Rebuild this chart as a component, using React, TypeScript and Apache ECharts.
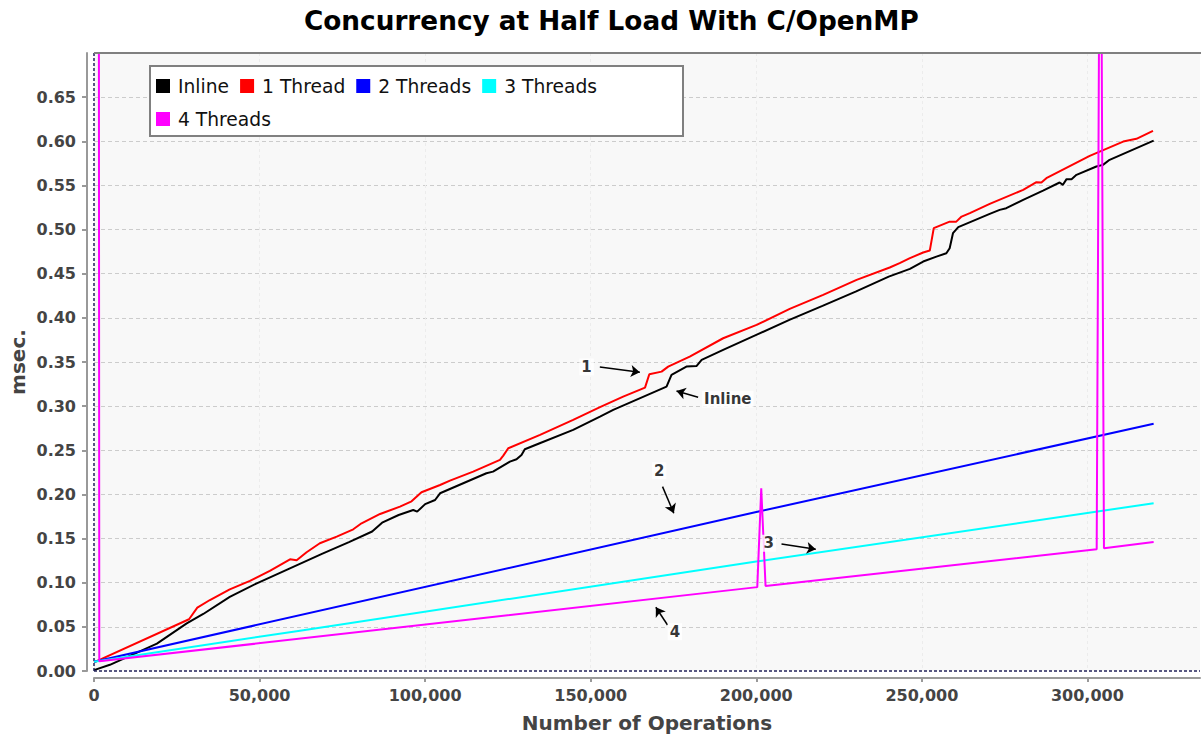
import React, { useEffect, useRef } from "react";
import * as echarts from "echarts";

const TITLE = "Concurrency at Half Load With C/OpenMP";
const X_NAME = "Number of Operations";
const Y_NAME = "msec.";
const SERIES_NAMES = ["Inline", "1 Thread", "2 Threads", "3 Threads", "4 Threads"];
const SERIES_COLORS = ["#000000", "#ff0000", "#0000ff", "#00ffff", "#ff00ff"];

const X_MAX = 334000;
const X_STEP = 50000;
const Y_MAX = 0.7;
const Y_STEP = 0.05;

const inline: [number, number][] = [
  [0, 0.001], [4800, 0.007], [19000, 0.031], [28000, 0.054], [33000, 0.0646],
  [41000, 0.084], [49000, 0.099], [59000, 0.116], [69000, 0.133], [77000, 0.146],
  [84000, 0.158], [87000, 0.168], [92000, 0.1767], [96400, 0.1824], [97600, 0.1805],
  [100000, 0.189], [103000, 0.1937], [104500, 0.2013], [118500, 0.224], [120500, 0.2258],
  [125600, 0.2372], [127600, 0.2398], [129100, 0.2447], [130100, 0.2512], [134600, 0.258],
  [144700, 0.2731], [152800, 0.2881], [156800, 0.2957], [172900, 0.3221], [174400, 0.3354],
  [178900, 0.3448], [182000, 0.3456], [183500, 0.3524], [190000, 0.3637], [200000, 0.3807],
  [210000, 0.3977], [220000, 0.4136], [230000, 0.4298], [240000, 0.4467], [246400, 0.4555],
  [250400, 0.4638], [254400, 0.4694], [257400, 0.4732], [258400, 0.4789], [259400, 0.4959],
  [261000, 0.5027], [270500, 0.5178], [273500, 0.5223], [275500, 0.5242], [280600, 0.5337],
  [286600, 0.5442], [291600, 0.5533], [292600, 0.5507], [293700, 0.5571], [295200, 0.5571],
  [296700, 0.562], [302700, 0.5714], [304700, 0.5733], [306700, 0.579], [320000, 0.6008],
];

const oneThread: [number, number][] = [
  [0, 0.0098], [28700, 0.0586], [31200, 0.0717], [35000, 0.0804], [41000, 0.0925],
  [47100, 0.102], [53100, 0.1133], [59200, 0.1265], [61200, 0.1254], [64200, 0.1345],
  [68200, 0.1447], [73300, 0.1522], [78300, 0.1605], [80800, 0.1673], [86400, 0.1779],
  [92400, 0.1862], [95900, 0.1922], [98900, 0.2025], [104500, 0.2107], [107500, 0.2156],
  [114500, 0.2258], [122600, 0.2391], [123600, 0.244], [125100, 0.2523], [134700, 0.2674],
  [144700, 0.2844], [152800, 0.2988], [159800, 0.3108], [166400, 0.321], [167700, 0.3362],
  [171400, 0.3391], [173400, 0.3448], [179900, 0.3561], [190000, 0.3769], [200100, 0.392],
  [210100, 0.4102], [220200, 0.426], [230300, 0.443], [240300, 0.457], [243300, 0.462],
  [246400, 0.4676], [250400, 0.474], [252400, 0.4762], [253600, 0.5016], [258400, 0.509],
  [260400, 0.509], [262000, 0.5147], [264500, 0.5186], [270500, 0.5291], [280600, 0.545],
  [284600, 0.5537], [286100, 0.5533], [287600, 0.5582], [300700, 0.5835], [310800, 0.5997],
  [314800, 0.6028], [319800, 0.6118],
];

const twoThreads: [number, number][] = [
  [0, 0.0105], [200000, 0.18], [320000, 0.28],
];

const threeThreads: [number, number][] = [
  [0, 0.0105], [62200, 0.0457], [200000, 0.124], [320000, 0.19],
];

const fourThreads: [number, number][] = [
  [1000, 3.45], [1600, 0.011], [200300, 0.095], [201500, 0.207], [202800, 0.0963],
  [302800, 0.138], [303900, 1.05], [305000, 0.139], [320000, 0.146],
];

const annotationLabels: [number, number, string][] = [
  [148750, 0.3444, "1"],
  [191400, 0.3078, "Inline"],
  [170670, 0.2269, "2"],
  [203780, 0.1447, "3"],
  [175410, 0.0445, "4"],
];

const annotationArrows: [number, number][][] = [
  [[152760, 0.3444], [164840, 0.3384]],
  [[182440, 0.3101], [175910, 0.3172]],
  [[171690, 0.2088], [175100, 0.1787]],
  [[207620, 0.1439], [217970, 0.1379]],
  [[173200, 0.0521], [169670, 0.0722]],
];

const SERIES_DATA = [inline, oneThread, twoThreads, threeThreads, fourThreads];
const FONT = "DejaVu Sans";

export default function App() {
  const ref = useRef<HTMLDivElement>(null);
  useEffect(() => {
    if (!ref.current) return;
    const chart = echarts.init(ref.current, null, { renderer: "svg" });
    const lineSeries: any[] = SERIES_NAMES.map((name, i) => ({
      name,
      type: "line",
      data: SERIES_DATA[i],
      showSymbol: false,
      symbol: "none",
      clip: true,
      z: 3 + i,
      lineStyle: { color: SERIES_COLORS[i], width: 2 },
      itemStyle: { color: SERIES_COLORS[i] },
      ...(i === 0
        ? {
            markLine: {
              silent: true,
              symbol: "none",
              label: { show: false },
              lineStyle: { color: "#22225a", type: [3, 2], width: 1.5 },
              data: [{ xAxis: 0 }, { yAxis: 0 }],
            },
          }
        : {}),
    }));
    chart.setOption({
      animation: false,
      backgroundColor: "#ffffff",
      title: {
        text: TITLE,
        left: 299,
        top: 3,
        textStyle: { fontFamily: FONT, fontWeight: "bold", fontSize: 26.3, color: "#000" },
      },
      legend: {
        data: SERIES_NAMES,
        left: 156,
        top: 75,
        width: 520,
        padding: [0, 0],
        icon: "rect",
        itemWidth: 14,
        itemHeight: 14,
        itemGap: 11,
        z: 10,
        selectedMode: false,
        textStyle: {
          fontFamily: FONT,
          fontSize: 18.7,
          lineHeight: 22,
          color: "#111",
          padding: [0, 0, 0, 3],
        },
      },
      graphic: [
        {
          type: "rect",
          z: 9,
          shape: { x: 150, y: 66, width: 533, height: 70 },
          style: { fill: "#ffffff", stroke: "#808080", lineWidth: 2 },
        },
        {
          type: "line",
          z: 9,
          shape: { x1: 94, y1: 53, x2: 1201, y2: 53 },
          style: { stroke: "#808080", lineWidth: 2 },
        },
      ],
      grid: {
        left: 94,
        right: 1,
        top: 53,
        bottom: 70,
        show: true,
        backgroundColor: "#f8f8f8",
        borderWidth: 0,
        outerBoundsMode: "none",
        containLabel: false,
      },
      xAxis: {
        type: "value",
        min: 0,
        max: X_MAX,
        interval: X_STEP,
        offset: 7,
        name: X_NAME,
        nameLocation: "middle",
        nameGap: 35,
        nameMoveOverlap: false,
        nameTextStyle: { fontFamily: FONT, fontWeight: "bold", fontSize: 20, color: "#444" },
        axisLine: { show: true, onZero: false, lineStyle: { color: "#999", width: 2 } },
        axisTick: { show: true, length: 4, lineStyle: { color: "#999", width: 2 } },
        axisLabel: {
          fontFamily: FONT,
          fontWeight: "bold",
          fontSize: 16,
          color: "#444",
          margin: 9,
          showMaxLabel: false,
          formatter: (v: number) => v.toLocaleString("en-US"),
        },
        splitLine: {
          show: true,
          showMaxLine: false,
          lineStyle: { color: "#ececec", type: [3, 3], width: 1 },
        },
      },
      yAxis: {
        type: "value",
        min: 0,
        max: Y_MAX,
        interval: Y_STEP,
        offset: 7,
        name: Y_NAME,
        nameLocation: "middle",
        nameGap: 59,
        nameMoveOverlap: false,
        nameTextStyle: { fontFamily: FONT, fontWeight: "bold", fontSize: 20, color: "#444" },
        axisLine: { show: true, onZero: false, lineStyle: { color: "#999", width: 2 } },
        axisTick: { show: true, length: 5, lineStyle: { color: "#999", width: 2 } },
        axisLabel: {
          fontFamily: FONT,
          fontWeight: "bold",
          fontSize: 16,
          color: "#444",
          margin: 11,
          showMaxLabel: false,
          formatter: (v: number) => v.toFixed(2),
        },
        splitLine: {
          show: true,
          showMaxLine: false,
          showMinLine: false,
          lineStyle: { color: "#cccccc", type: [4, 3], width: 1 },
        },
      },
      series: [
        ...lineSeries,
        {
          name: "arrows",
          type: "lines",
          coordinateSystem: "cartesian2d",
          z: 20,
          silent: true,
          symbol: ["none", "arrow"],
          symbolSize: 9,
          lineStyle: { color: "#000", width: 1.5, opacity: 1 },
          data: annotationArrows.map((c) => ({ coords: c })),
        },
        {
          name: "labels",
          type: "scatter",
          z: 21,
          silent: true,
          symbolSize: 2,
          itemStyle: { color: "rgba(0,0,0,0)" },
          label: {
            show: true,
            position: "inside",
            formatter: (p: any) => p.data[2],
            fontFamily: FONT,
            fontWeight: "bold",
            fontSize: 15,
            color: "#000",
            backgroundColor: "#ffffff",
            padding: [1, 2],
          },
          labelLayout: { hideOverlap: false },
          data: annotationLabels,
        },
      ],
    });
    return () => chart.dispose();
  }, []);
  return (
    <div
      ref={ref}
      style={{ position: "absolute", left: 0, top: 0, width: 1201, height: 741 }}
    />
  );
}
